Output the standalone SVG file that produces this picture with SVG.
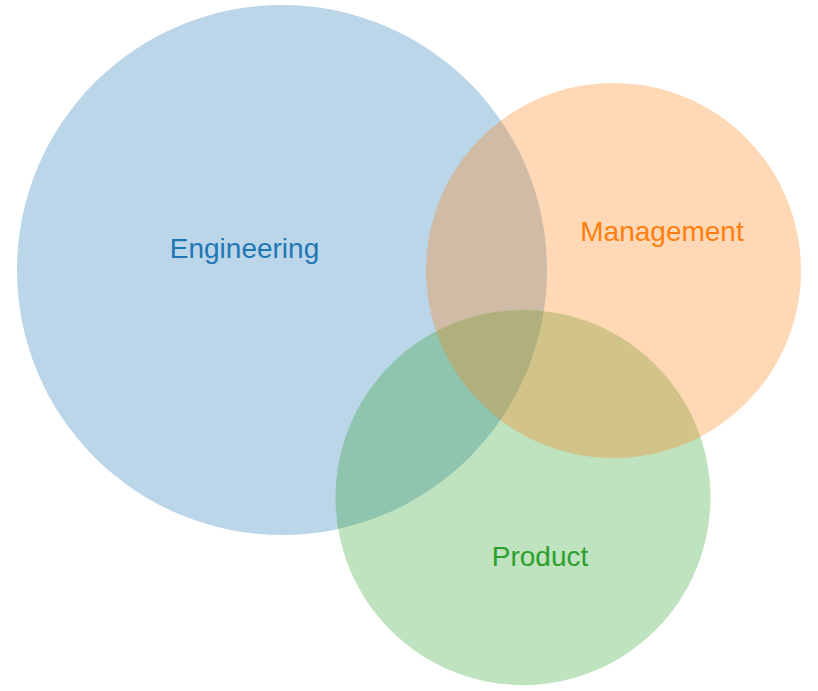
<svg xmlns="http://www.w3.org/2000/svg" width="818" height="691" viewBox="0 0 818 691">
<style>
.c{fill-opacity:0.3}
.t{font-family:"Liberation Sans",Arial,Helvetica,sans-serif;font-size:28px;text-anchor:middle}
</style>
<rect width="818" height="691" fill="#ffffff"/>
<g id="engineering">
<circle class="c" cx="282" cy="270" r="265" fill="#1f77b4"/>
</g>
<g id="product">
<circle class="c" cx="523" cy="497.5" r="187.5" fill="#2ca02c"/>
</g>
<g id="management">
<circle class="c" cx="613.5" cy="270.5" r="187.5" fill="#ff7f0e"/>
</g>
<g id="labels">
<text class="t" x="244.5" y="258" fill="#1f77b4">Engineering</text>
<text class="t" x="662" y="241" fill="#ff7f0e">Management</text>
<text class="t" x="540" y="566" fill="#2ca02c">Product</text>
</g>
</svg>
